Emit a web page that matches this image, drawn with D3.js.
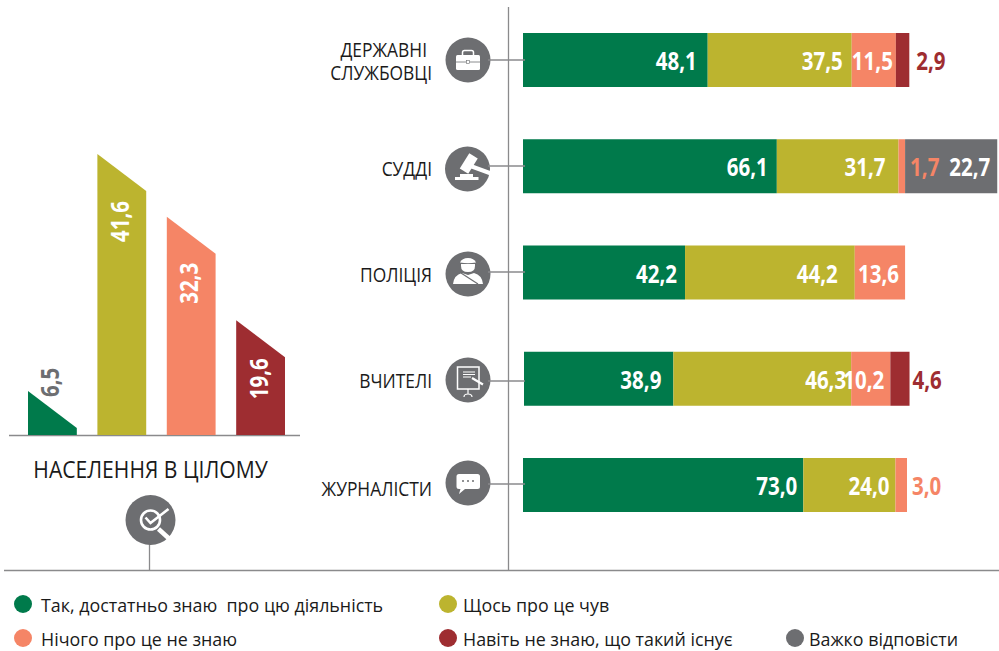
<!DOCTYPE html>
<html>
<head>
<meta charset="utf-8">
<style>
  body { margin: 0; background: #fff; }
  svg { display: block; }
  text { font-family: "Open Sans", sans-serif; white-space: pre; }
</style>
<script src="https://d3js.org/d3.v7.min.js"></script>
</head>
<body>
<svg id="chart" width="999" height="651"></svg>
<script>
// stacked bars, one array per answer
var categories = [["ДЕРЖАВНІ", "СЛУЖБОВЦІ"], ["СУДДІ"], ["ПОЛІЦІЯ"], ["ВЧИТЕЛІ"], ["ЖУРНАЛІСТИ"]];
var knowWell = [48.1, 66.1, 42.2, 38.9, 73.0];
var heardSomething = [37.5, 31.7, 44.2, 46.3, 24.0];
var knowNothing = [11.5, 1.7, 13.6, 10.2, 3.0];
var notExist = [2.9, 0, 0, 4.6, 0];
var hardToSay = [0, 22.7, 0, 0, 0];

// the source draws a few pieces at another length than their labels say
var knowNothingDrawn = [11.5, 1.7, 13.1, 10.2, 3.0];
var notExistDrawn = [3.5, 0, 0, 5.0, 0];
var hardToSayDrawn = [0, 24.0, 0, 0, 0];

// left block, whole population
var popLabel = "НАСЕЛЕННЯ В ЦІЛОМУ";
var popValues = [6.5, 41.6, 32.3, 19.6];
// same thing, last bar is drawn shorter than its label
var popDrawn = [6.5, 41.6, 32.3, 17.0];

var legendLabels = ["Так, достатньо знаю  про цю діяльність", "Щось про це чув", "Нічого про це не знаю", "Навіть не знаю, що такий існує", "Важко відповісти"];

var colors = ["#007a4b", "#bcb42f", "#f58566", "#9e2d31", "#6d6e71"];
var gray = "#6d6e71", lineGray = "#8a8a8c", ink = "#1a1a1a";
var series = [knowWell, heardSomething, knowNothing, notExist, hardToSay];
var drawn = [knowWell, heardSomething, knowNothingDrawn, notExistDrawn, hardToSayDrawn];
var fmt = function(v) { return v.toFixed(1).replace(".", ","); };

var svg = d3.select("#chart");

// scales
var x = d3.scaleLinear().domain([0, 100]).range([523, 907]);
var y = d3.scaleBand().domain(d3.range(5)).range([33, 512]).paddingInner(0.4918);
var popX = d3.scaleBand().domain(d3.range(4)).range([28, 285]).paddingInner(0.2966);
var popY = d3.scaleLinear().domain([0, 41.6]).range([435, 154]);

// layout tweaks, rows don't line up exactly
var rowNudge = [0, 0, 0, 1, 0];
var lineY = [60, 166, 272, 381, 484];
var iconX = [468, 467.5, 468, 468, 468];
var iconY = [60, 169, 274, 380, 483];
var textY = [[57, 80], [176], [282], [388], [496]];
var textEnd = [[427, 432], [432], [432], [432], [432]];
// distance between label and end of its bar piece, per row
var labelPad = [
  [11, 9, 3, 7, 0],
  [9, 13, 5, 0, 7],
  [8, 17, 6, 0, 0],
  [12, 5, 6, 3, 0],
  [6, 6, 5, 0, 0]
];

// text squeezed sideways, Open Sans is wider than the original font
function squeezed(parent, tx, ty, str, size, sx, anchor, fill, weight, rot) {
  return parent.append("text")
    .attr("transform", "translate(" + tx + "," + ty + ")" + (rot ? " rotate(" + rot + ")" : "") + " scale(" + sx + ",1)")
    .attr("text-anchor", anchor)
    .attr("font-size", size)
    .attr("font-weight", weight)
    .attr("fill", fill)
    .text(str);
}

function hline(x1, x2, yy, w) {
  svg.append("line").attr("x1", x1).attr("x2", x2).attr("y1", yy).attr("y2", yy).attr("stroke", lineGray).attr("stroke-width", w);
}
function vline(xx, y1, y2, w) {
  svg.append("line").attr("x1", xx).attr("x2", xx).attr("y1", y1).attr("y2", y2).attr("stroke", lineGray).attr("stroke-width", w);
}

// little white pictograms, drawn around the center of the gray circle
var icons = {
  case: function(g) {
    g.append("rect").attr("x", -12).attr("y", -5).attr("width", 24).attr("height", 15).attr("rx", 1.5).attr("fill", "#fff");
    g.append("path").attr("d", "M-5.5,-5V-7.5Q-5.5,-9.5 -3.5,-9.5H3.5Q5.5,-9.5 5.5,-7.5V-5").attr("fill", "none").attr("stroke", "#fff").attr("stroke-width", 1.5);
    g.append("path").attr("d", "M-12,2H12").attr("stroke", gray).attr("stroke-width", 0.8);
    g.append("rect").attr("x", -1.5).attr("y", 0.5).attr("width", 3).attr("height", 3).attr("fill", "#fff").attr("stroke", gray).attr("stroke-width", 0.6);
  },
  gavel: function(g) {
    g.append("rect").attr("x", -12.5).attr("y", 8).attr("width", 23.5).attr("height", 3).attr("fill", "#fff");
    g.append("rect").attr("x", -7.5).attr("y", 5).attr("width", 13).attr("height", 3).attr("fill", "#fff");
    g.append("rect").attr("x", -5).attr("y", -9.5).attr("width", 10).attr("height", 18).attr("transform", "translate(1,-5) rotate(32)").attr("fill", "#fff");
    g.append("path").attr("d", "M3,-3L23.5,4.5").attr("stroke", "#fff").attr("stroke-width", 4);
  },
  police: function(g) {
    g.append("path").attr("d", "M-15,10Q-14,1 -6,-1L0,1L6,-1Q14,1 15,10Z").attr("fill", "#fff");
    g.append("path").attr("d", "M-7,-1L10,10").attr("stroke", gray).attr("stroke-width", 1.2);
    g.append("path").attr("d", "M-7,-10V-8Q-7,-2 0,-2Q7,-2 7,-8V-10Z").attr("fill", "#fff");
    g.append("path").attr("d", "M-8,-11.5Q-6,-16 0,-16Q6,-16 8,-11.5Q0,-10 -8,-11.5Z").attr("fill", "#fff");
  },
  board: function(g) {
    g.append("rect").attr("x", -10.5).attr("y", -13).attr("width", 21.5).attr("height", 22).attr("fill", "none").attr("stroke", "#fff").attr("stroke-width", 1.5);
    g.append("path").attr("d", "M-5,-8H7M-5,-5.5H7M-5,-3H3").attr("stroke", "#fff").attr("stroke-width", 1);
    g.append("path").attr("d", "M4,-2L15,4.5").attr("stroke", "#fff").attr("stroke-width", 2.2);
    g.append("path").attr("d", "M0,9V14M-4,17Q-4,14 0,14Q4,14 4,17").attr("fill", "none").attr("stroke", "#fff").attr("stroke-width", 1.2);
  },
  chat: function(g) {
    g.append("path").attr("d", "M-9,-9H9.5Q12,-9 12,-6.5V3.5Q12,6 9.5,6H-3L-9,11L-7.5,6H-9Q-11.5,6 -11.5,3.5V-6.5Q-11.5,-9 -9,-9Z").attr("fill", "#fff");
    [-5, 0, 5].forEach(function(d) { g.append("circle").attr("cx", d).attr("cy", -2).attr("r", 1).attr("fill", gray); });
  },
  lens: function(g) {
    g.append("circle").attr("r", 9.5).attr("fill", "none").attr("stroke", "#fff").attr("stroke-width", 2.6);
    g.append("path").attr("d", "M-5,-2.5L0,3L18,-11").attr("fill", "none").attr("stroke", "#fff").attr("stroke-width", 2.6);
    g.append("path").attr("d", "M8,9L19,19").attr("stroke", "#fff").attr("stroke-width", 4.5);
  }
};
var rowIcons = ["case", "gavel", "police", "board", "chat"];

// frame lines
vline(508.5, 7, 571, 1.3);
hline(4, 999, 570.5, 1.3);
hline(9, 300, 435.5, 1.5);
vline(149.5, 540, 571, 1.3);

// stacked rows
categories.forEach(function(cat, i) {
  var row = svg.append("g");
  var bars = row.append("g").attr("transform", "translate(" + rowNudge[i] + ",0)");
  var cum = 0;
  var mid = y(i) + y.bandwidth() / 2;
  var labels = [];
  series.forEach(function(s, k) {
    var v = s[i];
    if (!v) return;
    var x0 = x(cum), x1 = x(cum + drawn[k][i]);
    bars.append("rect").attr("x", x0).attr("y", y(i)).attr("width", x1 - x0).attr("height", y.bandwidth()).attr("fill", colors[k]);
    labels.push({ v: v, k: k, x1: x1 });
    cum += drawn[k][i];
  });
  // labels after all rects, 1,7 sits on top of the gray piece
  labels.forEach(function(d) {
    var small = d.v < 5;
    squeezed(bars, small ? d.x1 + labelPad[i][d.k] : d.x1 - labelPad[i][d.k], mid + 10, fmt(d.v), 25, 0.82,
      small ? "start" : "end", small ? colors[d.k] : "#fff", 700);
  });

  hline(488, 525, lineY[i], 1.3);
  var ic = row.append("g").attr("transform", "translate(" + iconX[i] + "," + iconY[i] + ")");
  ic.append("circle").attr("r", 22.5).attr("fill", gray);
  icons[rowIcons[i]](ic);
  cat.forEach(function(line, j) {
    squeezed(row, textEnd[i][j], textY[i][j], line, 20, 0.87, "end", ink, 400);
  });
});

// population bars with the slanted tops
var slant = 37;
var popLabelDrop = [6, 10, 9, 1];
popDrawn.forEach(function(v, i) {
  var x0 = popX(i), x1 = x0 + popX.bandwidth();
  var path = d3.line()([[x0, popY(0)], [x0, popY(v)], [x1, popY(v) + slant], [x1, popY(0)]]) + "Z";
  svg.append("path").attr("d", path).attr("fill", colors[i]);
  var tx = (x0 + x1) / 2 + 7;
  // first bar is too small, its label stands above the slant
  if (i == 0) {
    squeezed(svg, tx, popY(v) + popLabelDrop[i], fmt(popValues[i]), 25, 0.82, "start", gray, 700, -90);
  } else {
    squeezed(svg, tx, popY(v) + slant + popLabelDrop[i], fmt(popValues[i]), 25, 0.82, "end", "#fff", 700, -90);
  }
});

squeezed(svg, 150.5, 478, popLabel, 24, 0.88, "middle", ink, 400);
var lensIcon = svg.append("g").attr("transform", "translate(150.5,520)");
lensIcon.append("circle").attr("r", 25).attr("fill", gray);
icons.lens(lensIcon);

// legend
var legendX = [23, 448, 23, 448, 795], legendY = [604, 604, 638, 638, 638], legendGap = [18, 15, 18, 15, 14];
legendLabels.forEach(function(t, i) {
  svg.append("circle").attr("cx", legendX[i]).attr("cy", legendY[i]).attr("r", 9).attr("fill", colors[i]);
  squeezed(svg, legendX[i] + legendGap[i], legendY[i] + 7.5, t, 19, 0.94, "start", ink, 400);
});
</script>
</body>
</html>
